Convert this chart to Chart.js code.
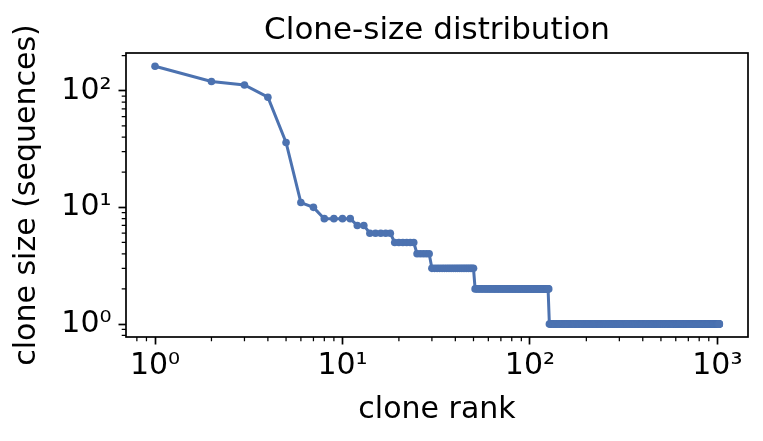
<!DOCTYPE html>
<html>
<head>
<meta charset="utf-8">
<script src="https://cdn.jsdelivr.net/npm/chart.js@4.4.1/dist/chart.umd.min.js"></script>
<style>
  html, body { margin: 0; padding: 0; background: #ffffff; }
  #wrap { width: 763px; height: 441px; }
</style>
</head>
<body>
<div id="wrap"><canvas id="c" width="763" height="441"></canvas></div>
<script>
// ---- data ----
// distinct clone sizes (sequences), largest first
const cloneSizes    = [162, 120, 112, 88, 36, 11, 10, 8, 7, 6, 5, 4, 3, 2, 1];
// number of clones having each of those sizes
const clonesPerSize = [1, 1, 1, 1, 1, 1, 1, 4, 2, 5, 6, 5, 21, 76, 899];

// axis ticks
const xTickValues = [1, 10, 100, 1000];
const xTickLabels = ['10\u2070', '10\u00B9', '10\u00B2', '10\u00B3'];
const yTickValues = [1, 10, 100];
const yTickLabels = ['10\u2070', '10\u00B9', '10\u00B2'];
const xMinorTicks = [0.8, 0.9, 2, 3, 4, 5, 6, 7, 8, 9, 20, 30, 40, 50, 60, 70, 80, 90, 200, 300, 400, 500, 600, 700, 800, 900];
const yMinorTicks = [0.8, 0.9, 2, 3, 4, 5, 6, 7, 8, 9, 20, 30, 40, 50, 60, 70, 80, 90, 200];

// rank-ordered points (rank = position in the size-sorted clone list)
const points = [];
let rank = 1;
cloneSizes.forEach((size, i) => {
  for (let k = 0; k < clonesPerSize[i]; k++) {
    points.push({ x: rank, y: size });
    rank++;
  }
});

const FONT = 'DejaVu Sans';
const COLOR = '#4c72b0';

const framePlugin = {
  id: 'frame',
  afterDraw(chart) {
    const { ctx, chartArea: a, scales } = chart;
    ctx.save();
    ctx.strokeStyle = '#000';
    // minor ticks
    ctx.lineWidth = 1.25;
    ctx.beginPath();
    xMinorTicks.forEach(v => {
      const px = scales.x.getPixelForValue(v);
      if (px >= a.left && px <= a.right) {
        ctx.moveTo(px, a.bottom);
        ctx.lineTo(px, a.bottom + 4.3);
      }
    });
    yMinorTicks.forEach(v => {
      const py = scales.y.getPixelForValue(v);
      if (py >= a.top && py <= a.bottom) {
        ctx.moveTo(a.left, py);
        ctx.lineTo(a.left - 4.3, py);
      }
    });
    ctx.stroke();
    // spines
    ctx.lineWidth = 1.7;
    ctx.strokeRect(a.left, a.top, a.right - a.left, a.bottom - a.top);
    ctx.restore();
  }
};

new Chart(document.getElementById('c'), {
  type: 'line',
  data: {
    datasets: [{
      data: points,
      borderColor: COLOR,
      backgroundColor: COLOR,
      borderWidth: 3,
      pointRadius: 3.8,
      pointBorderWidth: 0,
      pointBackgroundColor: COLOR,
      pointHoverRadius: 3.8,
      tension: 0,
      fill: false
    }]
  },
  options: {
    responsive: false,
    animation: false,
    events: [],
    layout: { padding: { left: 0, right: 15, top: 0, bottom: 0 } },
    plugins: {
      legend: { display: false },
      tooltip: { enabled: false },
      title: {
        display: true,
        text: 'Clone-size distribution',
        fullSize: false,
        color: '#000',
        font: { family: FONT, size: 31, weight: 'normal', lineHeight: 1.2 },
        padding: { top: 12, bottom: 3.8 }
      }
    },
    scales: {
      x: {
        type: 'logarithmic',
        min: 0.716,
        max: 1457,
        afterFit(s) { s.height = 104; },
        afterBuildTicks(s) { s.ticks = xTickValues.map(v => ({ value: v, major: true })); },
        border: { display: false },
        grid: {
          display: true,
          drawOnChartArea: false,
          drawTicks: true,
          tickLength: 7.5,
          tickWidth: 1.7,
          tickColor: '#000'
        },
        ticks: {
          autoSkip: false,
          maxRotation: 0,
          padding: 4,
          color: '#000',
          font: { family: FONT, size: 30, lineHeight: 1.2 },
          callback(value) {
            const i = xTickValues.indexOf(value);
            return i >= 0 ? xTickLabels[i] : '';
          }
        },
        title: {
          display: true,
          text: 'clone rank',
          color: '#000',
          font: { family: FONT, size: 30, lineHeight: 1.2 },
          padding: { top: 0, bottom: 13 }
        }
      },
      y: {
        type: 'logarithmic',
        min: 0.774,
        max: 210.5,
        afterFit(s) { s.width = 126; },
        afterBuildTicks(s) { s.ticks = yTickValues.map(v => ({ value: v, major: true })); },
        border: { display: false },
        grid: {
          display: true,
          drawOnChartArea: false,
          drawTicks: true,
          tickLength: 7.5,
          tickWidth: 1.7,
          tickColor: '#000'
        },
        ticks: {
          autoSkip: false,
          padding: 7,
          color: '#000',
          font: { family: FONT, size: 30, lineHeight: 1.2 },
          callback(value) {
            const i = yTickValues.indexOf(value);
            return i >= 0 ? yTickLabels[i] : '';
          }
        },
        title: {
          display: true,
          text: 'clone size (sequences)',
          color: '#000',
          font: { family: FONT, size: 30, lineHeight: 1.2 },
          padding: { top: 9, bottom: 0 }
        }
      }
    }
  },
  plugins: [framePlugin]
});
</script>
</body>
</html>
